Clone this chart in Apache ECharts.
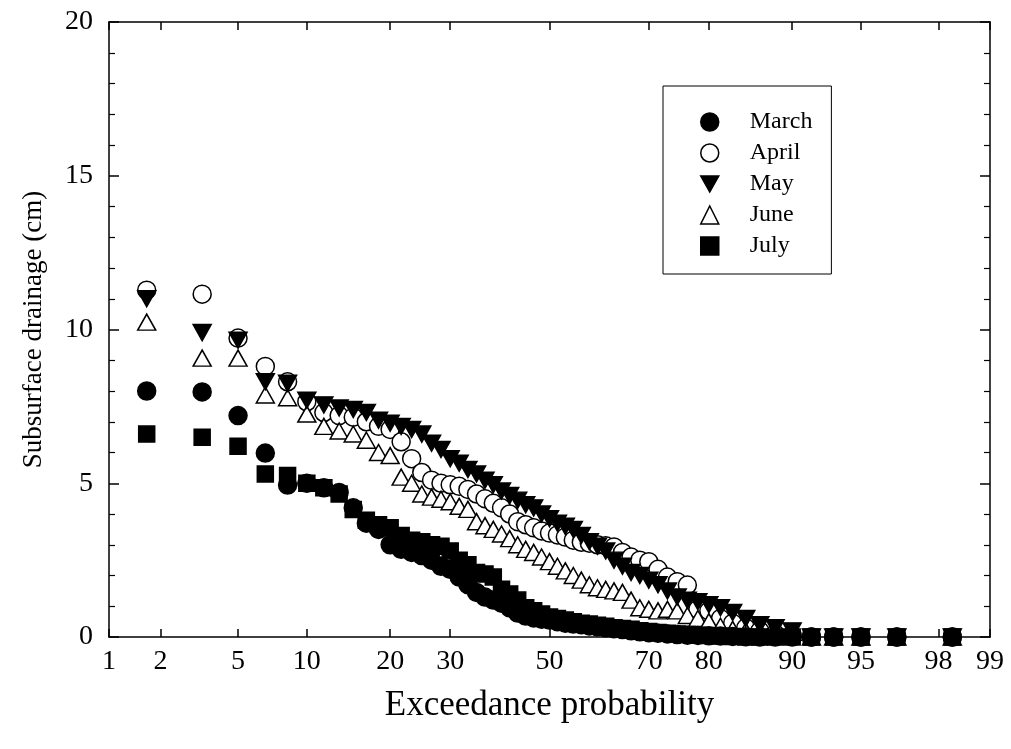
<!DOCTYPE html>
<html><head><meta charset="utf-8">
<script src="https://cdn.jsdelivr.net/npm/echarts@6/dist/echarts.min.js"></script>
<style>html,body{margin:0;padding:0;background:#fff}#c{width:1011px;height:749px}</style>
</head><body><div id="c"></div>
<script>
// Exceedance probability (%) of each ranked value
const probs = [1.67, 3.33, 5.00, 6.67, 8.33, 10.00, 11.67, 13.33, 15.00, 16.67, 18.33, 20.00, 21.67, 23.33, 25.00, 26.67, 28.33, 30.00, 31.67, 33.33, 35.00, 36.67, 38.33, 40.00, 41.67, 43.33, 45.00, 46.67, 48.33, 50.00, 51.67, 53.33, 55.00, 56.67, 58.33, 60.00, 61.67, 63.33, 65.00, 66.67, 68.33, 70.00, 71.67, 73.33, 75.00, 76.67, 78.33, 80.00, 81.67, 83.33, 85.00, 86.67, 88.33, 90.00, 91.67, 93.33, 95.00, 96.67, 98.33];
const march = [8.0, 7.97, 7.2, 5.98, 4.94, 5.0, 4.85, 4.7, 4.2, 3.7, 3.5, 3.0, 2.85, 2.75, 2.65, 2.5, 2.3, 2.2, 1.95, 1.7, 1.45, 1.3, 1.2, 1.1, 0.95, 0.78, 0.68, 0.62, 0.58, 0.55, 0.5, 0.45, 0.42, 0.4, 0.36, 0.33, 0.3, 0.27, 0.24, 0.2, 0.17, 0.14, 0.12, 0.1, 0.08, 0.06, 0.05, 0.04, 0.03, 0.02, 0.01, 0, 0, 0, 0, 0, 0, 0, 0];
const april = [11.28, 11.15, 9.72, 8.8, 8.3, 7.65, 7.3, 7.2, 7.15, 7.0, 6.85, 6.75, 6.35, 5.8, 5.35, 5.1, 5.0, 4.95, 4.9, 4.8, 4.65, 4.5, 4.35, 4.2, 4.0, 3.75, 3.65, 3.55, 3.45, 3.38, 3.32, 3.25, 3.15, 3.08, 3.05, 3.0, 2.97, 2.93, 2.75, 2.6, 2.5, 2.45, 2.2, 1.95, 1.8, 1.69, 0.9, 0.85, 0.6, 0.45, 0.3, 0.2, 0.1, 0.05, 0, 0, 0, 0, 0];
const may = [11.0, 9.9, 9.65, 8.3, 8.25, 7.7, 7.55, 7.45, 7.4, 7.3, 7.05, 6.95, 6.85, 6.75, 6.6, 6.3, 6.1, 5.8, 5.65, 5.45, 5.3, 5.1, 4.95, 4.75, 4.6, 4.45, 4.3, 4.2, 4.0, 3.85, 3.7, 3.6, 3.5, 3.3, 3.1, 2.95, 2.8, 2.5, 2.3, 2.1, 2.0, 1.85, 1.7, 1.5, 1.3, 1.2, 1.15, 1.05, 0.95, 0.8, 0.6, 0.4, 0.3, 0.2, 0, 0, 0, 0, 0];
const june = [10.24, 9.07, 9.07, 7.87, 7.78, 7.25, 6.85, 6.7, 6.6, 6.4, 6.0, 5.9, 5.2, 5.0, 4.65, 4.55, 4.48, 4.4, 4.25, 4.15, 3.75, 3.62, 3.5, 3.35, 3.2, 3.0, 2.85, 2.75, 2.6, 2.45, 2.3, 2.15, 2.0, 1.85, 1.7, 1.6, 1.55, 1.5, 1.45, 1.2, 0.95, 0.9, 0.85, 0.9, 0.85, 0.7, 0.6, 0.5, 0.35, 0.25, 0.2, 0.15, 0.15, 0.15, 0, 0, 0, 0, 0];
const july = [6.6, 6.5, 6.2, 5.3, 5.25, 5.0, 4.85, 4.65, 4.15, 3.8, 3.65, 3.55, 3.3, 3.15, 3.1, 3.0, 2.95, 2.8, 2.5, 2.35, 2.1, 2.05, 1.95, 1.55, 1.4, 1.2, 0.95, 0.85, 0.75, 0.65, 0.6, 0.55, 0.5, 0.45, 0.42, 0.38, 0.35, 0.3, 0.28, 0.25, 0.2, 0.18, 0.15, 0.12, 0.1, 0.08, 0.06, 0.05, 0.03, 0.02, 0, 0, 0, 0, 0, 0, 0, 0, 0];
const xTickLabels = [1, 2, 5, 10, 20, 30, 50, 70, 80, 90, 95, 98, 99];
const seriesNames = ['March', 'April', 'May', 'June', 'July'];

// inverse standard normal CDF (probability-scale axis transform)
function probit(p) {
  const a=[-3.969683028665376e+01,2.209460984245205e+02,-2.759285104469687e+02,1.383577518672690e+02,-3.066479806614716e+01,2.506628277459239e+00];
  const b=[-5.447609879822406e+01,1.615858368580409e+02,-1.556989798598866e+02,6.680131188771972e+01,-1.328068155288572e+01];
  const c=[-7.784894002430293e-03,-3.223964580411365e-01,-2.400758277161838e+00,-2.549732539343734e+00,4.374664141464968e+00,2.938163982698783e+00];
  const d=[7.784695709041462e-03,3.224671290700398e-01,2.445134137142996e+00,3.754408661907416e+00];
  const pl=0.02425, ph=1-pl;
  if (p<pl){const q=Math.sqrt(-2*Math.log(p));return (((((c[0]*q+c[1])*q+c[2])*q+c[3])*q+c[4])*q+c[5])/((((d[0]*q+d[1])*q+d[2])*q+d[3])*q+1);}
  if (p<=ph){const q=p-0.5,r=q*q;return (((((a[0]*r+a[1])*r+a[2])*r+a[3])*r+a[4])*r+a[5])*q/(((((b[0]*r+b[1])*r+b[2])*r+b[3])*r+b[4])*r+1);}
  const q=Math.sqrt(-2*Math.log(1-p));return -(((((c[0]*q+c[1])*q+c[2])*q+c[3])*q+c[4])*q+c[5])/((((d[0]*q+d[1])*q+d[2])*q+d[3])*q+1);
}
const tickVals = xTickLabels.map(v => probit(v/100));
const labelMap = {};
tickVals.forEach((t,i)=>{ labelMap[t.toFixed(5)] = String(xTickLabels[i]); });
const xMin = probit(0.01), xMax = probit(0.99);
const pair = arr => arr.map((v,i)=>[probit(probs[i]/100), v]);

const FONT = '"Liberation Serif", "Times New Roman", serif';
const DOWN_TRI = 'path://M0,0 L18,0 L9,16 Z';
const styles = {
  March: {symbol:'circle', symbolSize:18, fill:'#000', z:6, icon:'circle'},
  April: {symbol:'circle', symbolSize:18, fill:'#fff', z:2, icon:'circle'},
  May:   {symbol:DOWN_TRI, symbolSize:[18,16], fill:'#000', z:4, icon:DOWN_TRI},
  June:  {symbol:'triangle', symbolSize:[18,16], fill:'#fff', z:3, icon:'triangle'},
  July:  {symbol:'rect', symbolSize:16, fill:'#000', z:5, icon:'rect'}
};
const dataMap = {March: march, April: april, May: may, June: june, July: july};

const series = seriesNames.map(n => ({
  name: n, type: 'scatter', xAxisIndex: 0, yAxisIndex: 0,
  symbol: styles[n].symbol, symbolSize: styles[n].symbolSize,
  z: styles[n].z,
  itemStyle: {color: styles[n].fill, borderColor: '#000', borderWidth: 1.5, opacity: 1},
  emphasis: {disabled: true},
  data: pair(dataMap[n])
}));

const chart = echarts.init(document.getElementById('c'), null, {renderer:'canvas'});
const axisLine = {show:true, onZero:false, lineStyle:{color:'#000', width:1.5}};
chart.setOption({
  animation: false,
  backgroundColor: '#fff',
  grid: {left:109, right:21, top:22, bottom:112, containLabel:false},
  legend: {
    orient: 'vertical', left: 663, top: 86,
    padding: [24, 19, 16, 37],
    borderColor: '#000', borderWidth: 1,
    itemWidth: 18, itemHeight: 18, itemGap: 7,
    selectedMode: false,
    textStyle: {fontFamily: FONT, fontSize: 24, color: '#000', padding: [0,0,0,26]},
    data: seriesNames.map(n => ({name: n, icon: styles[n].icon,
      itemStyle: {color: styles[n].fill, borderColor:'#000', borderWidth:1.5}}))
  },
  xAxis: [{
    type:'value', position:'bottom', min:xMin, max:xMax,
    name:'Exceedance probability', nameLocation:'middle', nameGap:51,
    nameTextStyle:{fontFamily:FONT, fontSize:35, color:'#000'},
    axisLine: axisLine,
    axisTick:{show:true, inside:true, length:8, customValues: tickVals, lineStyle:{color:'#000', width:1.5}},
    axisLabel:{show:true, customValues: tickVals, margin:11, fontFamily:FONT, fontSize:28, color:'#000',
      showMinLabel:true, showMaxLabel:true,
      formatter: v => labelMap[Number(v).toFixed(5)] || ''},
    splitLine:{show:false}
  },{
    type:'value', position:'top', min:xMin, max:xMax,
    axisLine: axisLine,
    axisTick:{show:true, inside:true, length:8, customValues: tickVals, lineStyle:{color:'#000', width:1.5}},
    axisLabel:{show:false}, splitLine:{show:false}
  }],
  yAxis: [{
    type:'value', position:'left', min:0, max:20, interval:5,
    name:'Subsurface drainage (cm)', nameLocation:'middle', nameGap:62,
    nameTextStyle:{fontFamily:FONT, fontSize:27, color:'#000'},
    axisLine: axisLine,
    axisTick:{show:true, inside:true, length:10, lineStyle:{color:'#000', width:1.5}},
    minorTick:{show:true, splitNumber:5, length:6, lineStyle:{color:'#000', width:1.2}},
    axisLabel:{margin:16, fontFamily:FONT, fontSize:28, color:'#000'},
    splitLine:{show:false}, minorSplitLine:{show:false}
  },{
    type:'value', position:'right', min:0, max:20, interval:5,
    axisLine: axisLine,
    axisTick:{show:true, inside:true, length:10, lineStyle:{color:'#000', width:1.5}},
    minorTick:{show:true, splitNumber:5, length:6, lineStyle:{color:'#000', width:1.2}},
    axisLabel:{show:false}, splitLine:{show:false}, minorSplitLine:{show:false}
  }],
  series: series
});
</script></body></html>
